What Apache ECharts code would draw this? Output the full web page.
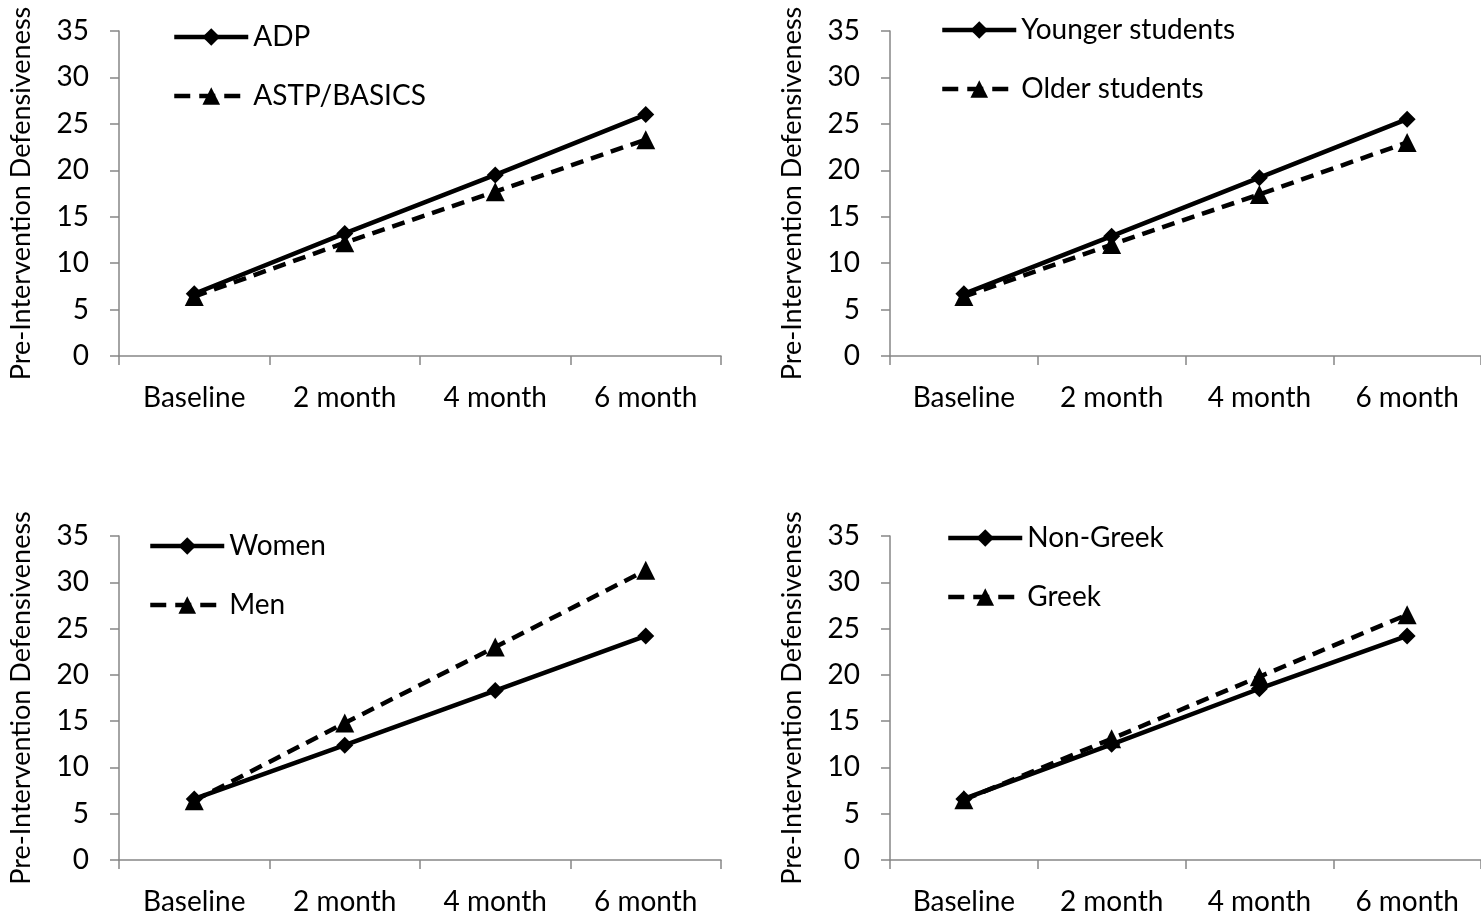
<!DOCTYPE html>
<html>
<head>
<meta charset="utf-8">
<title>Pre-Intervention Defensiveness over time</title>
<script src="https://cdn.jsdelivr.net/npm/echarts@6/dist/echarts.min.js"></script>
<style>
  html, body { margin: 0; padding: 0; background: #fff; }
  #chart { width: 1481px; height: 920px; }
</style>
</head>
<body>
<div id="chart"></div>
<script>
// Time points shared by all four panels
const categories = ['Baseline', '2 month', '4 month', '6 month'];

// Panel A: condition
const adp = [6.7, 13.2, 19.5, 26.0];
const astpBasics = [6.4, 12.2, 17.7, 23.3];

// Panel B: age group
const youngerStudents = [6.7, 12.9, 19.2, 25.5];
const olderStudents = [6.4, 12.0, 17.4, 23.0];

// Panel C: gender
const women = [6.6, 12.4, 18.3, 24.2];
const men = [6.4, 14.8, 23.0, 31.3];

// Panel D: Greek affiliation
const nonGreek = [6.6, 12.5, 18.5, 24.2];
const greek = [6.5, 13.1, 19.8, 26.5];

const yAxisTitle = 'Pre-Intervention Defensiveness';
const yMin = 0, yMax = 35, yStep = 5;

const FONT = 'Lato, "Open Sans", sans-serif';
const FS = 28;
const AXIS_GRAY = '#868686';
const LINE_W = 4.5;

const panels = [
  { left: 119, top: 31,  width: 602, height: 325, solid: ['ADP', adp], dashed: ['ASTP/BASICS', astpBasics], legend: { left: 172, top: 22 } },
  { left: 890, top: 31,  width: 602, height: 325, solid: ['Younger students', youngerStudents], dashed: ['Older students', olderStudents], legend: { left: 940, top: 15 } },
  { left: 119, top: 536, width: 602, height: 324, solid: ['Women', women], dashed: ['Men', men], legend: { left: 148, top: 531 } },
  { left: 890, top: 536, width: 602, height: 324, solid: ['Non-Greek', nonGreek], dashed: ['Greek', greek], legend: { left: 946, top: 523 } }
];

const grid = [], xAxis = [], yAxis = [], series = [], legend = [];

panels.forEach((p, i) => {
  grid.push({ left: p.left, top: p.top, width: p.width, height: p.height, containLabel: false });
  xAxis.push({
    type: 'category', gridIndex: i, data: categories, boundaryGap: true,
    axisLine: { lineStyle: { color: AXIS_GRAY, width: 1.5 } },
    axisTick: { show: true, length: 9, inside: false, lineStyle: { color: AXIS_GRAY, width: 1.5 } },
    axisLabel: { color: '#000', fontFamily: FONT, fontSize: FS, margin: 28, interval: 0 },
    splitLine: { show: false }
  });
  yAxis.push({
    type: 'value', gridIndex: i, min: yMin, max: yMax, interval: yStep,
    name: yAxisTitle, nameLocation: 'middle', nameRotate: 90, nameGap: 84,
    nameTextStyle: { color: '#000', fontFamily: FONT, fontSize: 27 },
    axisLine: { show: true, lineStyle: { color: AXIS_GRAY, width: 1.5 } },
    axisTick: { show: true, length: 9, inside: false, lineStyle: { color: AXIS_GRAY, width: 1.5 } },
    axisLabel: { color: '#000', fontFamily: FONT, fontSize: FS, margin: 30 },
    splitLine: { show: false }
  });
  series.push({
    name: p.solid[0], type: 'line', xAxisIndex: i, yAxisIndex: i, data: p.solid[1],
    symbol: 'diamond', symbolSize: 17, z: 3,
    lineStyle: { color: '#000', width: LINE_W, type: 'solid' },
    itemStyle: { color: '#000' }, animation: false
  });
  series.push({
    name: p.dashed[0], type: 'line', xAxisIndex: i, yAxisIndex: i, data: p.dashed[1],
    symbol: 'triangle', symbolSize: 19, z: 2,
    lineStyle: { color: '#000', width: LINE_W, type: [13, 8] },
    itemStyle: { color: '#000' }, animation: false
  });
  legend.push({
    orient: 'vertical', left: p.legend.left, top: p.legend.top, padding: 0,
    data: [
      { name: p.solid[0] },
      // legend sample: dash, marker, dash, then a gap before the text
      { name: p.dashed[0], lineStyle: { width: LINE_W, type: [16, 9] } }
    ],
    itemWidth: 74, itemHeight: 22, itemGap: 29,
    lineStyle: { width: LINE_W },
    textStyle: { color: '#000', fontFamily: FONT, fontSize: FS, lineHeight: 30 },
    selectedMode: false
  });
});

const chart = echarts.init(document.getElementById('chart'), null, { renderer: 'canvas' });
chart.setOption({
  backgroundColor: '#fff',
  animation: false,
  grid, xAxis, yAxis, series, legend
});
</script>
</body>
</html>
